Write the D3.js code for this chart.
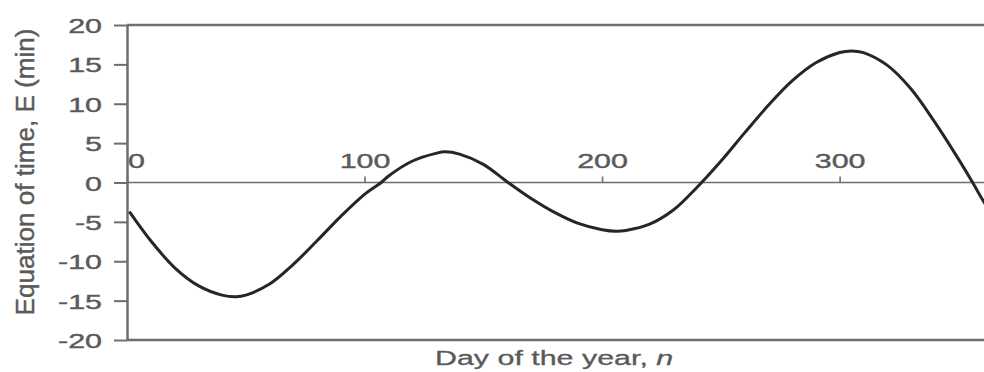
<!DOCTYPE html>
<html><head><meta charset="utf-8">
<script src="https://cdn.jsdelivr.net/npm/d3@7"></script>
<style>body{margin:0;background:#fff}svg{display:block}</style>
</head><body>
<svg id="c" width="984" height="372"></svg>
<script>
const days   = [1,10,20,30,40,46,50,60,70,80,90,100,107,110,120,130,134,140,150,160,170,180,190,200,206,210,220,230,240,250,260,270,280,290,300,305,310,320,330,340,350,356,360,365];
const eqTime = [-3.7,-7.4,-10.8,-13.1,-14.3,-14.5,-14.3,-12.9,-10.4,-7.4,-4.3,-1.5,0,0.8,2.7,3.7,3.9,3.6,2.3,0.1,-2.0,-3.8,-5.2,-6.0,-6.2,-6.1,-5.3,-3.5,-0.6,2.7,6.3,9.8,12.9,15.2,16.5,16.7,16.5,14.9,11.9,7.7,3.0,0,-2.1,-4.6];
const yTicks = [-20,-15,-10,-5,0,5,10,15,20];
const xTicks = [0,100,200,300];
const yTitle = "Equation of time, E (min)";
const xTitle = "Day of the year, ";
const xTitleVar = "n";

const svg = d3.select("#c");
const x = d3.scaleLinear().domain([0,365]).range([127,994]);
const y = d3.scaleLinear().domain([-20,20]).range([340,25]);
const SX = 1.45;
const axisCol = "#6e6e6e", txtCol = "#5a5a5a";
const font = "'Liberation Sans', Arial, sans-serif";
const fmt = d => String(d);

// frame top & bottom lines
svg.append("line").attr("x1",x(0)).attr("x2",x(365)).attr("y1",y(20)).attr("y2",y(20))
  .attr("stroke",axisCol).attr("stroke-width",2.5);
svg.append("line").attr("x1",x(0)).attr("x2",x(365)).attr("y1",y(-20)).attr("y2",y(-20))
  .attr("stroke",axisCol).attr("stroke-width",2.5);

// zero line
svg.append("line").attr("x1",x(0)).attr("x2",x(365)).attr("y1",y(0)).attr("y2",y(0))
  .attr("stroke",axisCol).attr("stroke-width",1.6);

// y axis
const ya = svg.append("g").attr("transform",`translate(${x(0)},0)`)
  .call(d3.axisLeft(y).tickValues(yTicks).tickSize(13).tickSizeOuter(0).tickFormat(fmt));
ya.select(".domain").attr("stroke",axisCol).attr("stroke-width",2.5);
ya.selectAll(".tick line").attr("stroke",axisCol).attr("stroke-width",2);
ya.selectAll(".tick text").attr("fill",txtCol).attr("stroke",txtCol).attr("stroke-width",0.4)
  .attr("font-family",font).attr("font-size",21)
  .attr("x",-25/SX).attr("dy","0.36em").attr("transform",`scale(${SX},1)`);

// x ticks on zero line
const xa = svg.append("g").attr("transform",`translate(0,${y(0)})`)
  .call(d3.axisTop(x).tickValues(xTicks).tickSize(6).tickSizeOuter(0).tickFormat(fmt));
xa.select(".domain").remove();
xa.selectAll(".tick line").attr("stroke",axisCol).attr("stroke-width",1.6);
xa.selectAll(".tick text").attr("fill",txtCol).attr("stroke",txtCol).attr("stroke-width",0.4)
  .attr("font-family",font).attr("font-size",21)
  .attr("y",-15).attr("dy",0)
  .attr("transform",d => `translate(${d===0?9:0},0) scale(${SX},1)`);

// curve
const line = d3.line().x((d,i)=>x(days[i])).y(d=>y(d)).curve(d3.curveCatmullRom.alpha(0.5));
svg.append("path").datum(eqTime).attr("d",line).attr("fill","none")
  .attr("stroke","#262626").attr("stroke-width",3);

// y title
svg.append("text").attr("transform","translate(34,172) scale(1.4,1) rotate(-90)")
  .attr("text-anchor","middle").attr("font-family",font).attr("font-size",18)
  .attr("fill",txtCol).attr("stroke",txtCol).attr("stroke-width",0.3)
  .attr("textLength",287).attr("lengthAdjust","spacingAndGlyphs").text(yTitle);

// x title
const xt = svg.append("text").attr("transform","translate(435,365) scale(1.52,1)")
  .attr("font-family",font).attr("font-size",20).attr("fill",txtCol)
  .attr("stroke",txtCol).attr("stroke-width",0.3);
xt.append("tspan").text(xTitle);
xt.append("tspan").attr("font-style","italic").text(xTitleVar);
</script>
</body></html>
